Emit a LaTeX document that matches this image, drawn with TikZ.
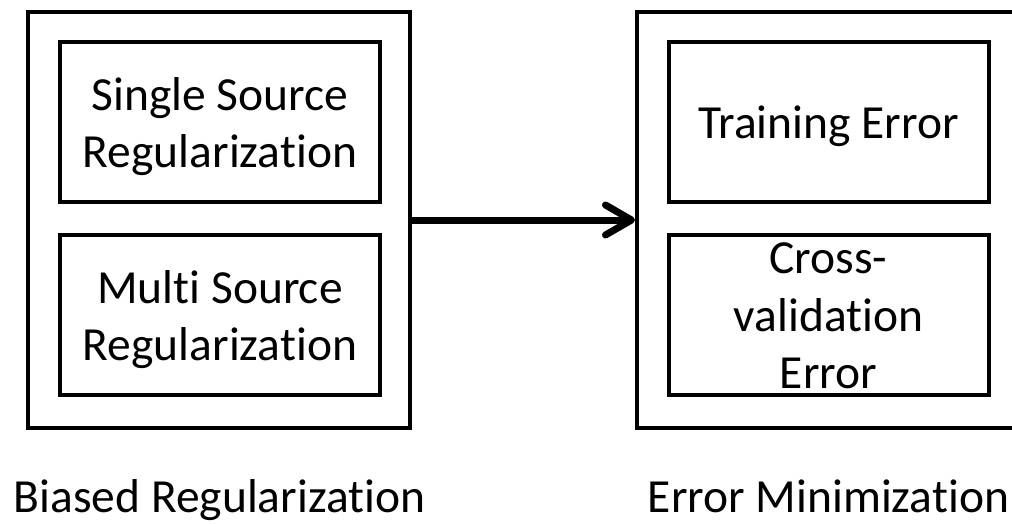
\documentclass[tikz,border=0pt]{standalone}
\usepackage{fontspec}
\setmainfont{Carlito}[Ligatures=NoCommon]
\usetikzlibrary{arrows.meta, positioning, calc}

\begin{document}
\begin{tikzpicture}[x=1pt, y=-1pt,
        outerbox/.style={draw, line width=4pt, minimum height=416pt},
        innerbox/.style={draw, line width=4pt, minimum width=320pt, minimum height=160pt},
        boxtext/.style={align=center, inner sep=0pt},
        caption/.style={anchor=base},
        flow/.style={line width=7pt, line cap=round, -{Straight Barb[length=26pt, width=30pt, line cap=round, line join=round]}}]
        \useasboundingbox (0,0) rectangle (1012,523);
        \fontsize{47.5}{57.5}\selectfont
        % left group
        \node[outerbox, minimum width=382pt] (biased) at (219,220) {};
        \node[innerbox] (single) at (220,122) {};
        \node[innerbox] (multi) at (220,315) {};
        \node[boxtext] at ([yshift=-4.5pt]single.center) {Single Source\\Regularization};
        \node[boxtext] at ([yshift=-4.5pt]multi.center) {Multi Source\\Regularization};
        \node[caption] (biasedlabel) at (219.5,512) {Biased Regularization};
        % right group, runs past the edge
        \node[outerbox, minimum width=403pt] (errmin) at (838.5,220) {};
        \node[innerbox] (training) at (828.5,122) {};
        \node[innerbox] (crossval) at (828.5,315) {};
        \node[boxtext] at ([yshift=-4.5pt]training.center) {Training Error};
        \node[boxtext] at ([yshift=-1pt]crossval.center) {Cross-\\validation\\Error};
        \node[caption] (errminlabel) at (828.5,512) {Error Minimization};
        \draw[flow] (biased.east) -- (errmin.west);
\end{tikzpicture}
\end{document}
